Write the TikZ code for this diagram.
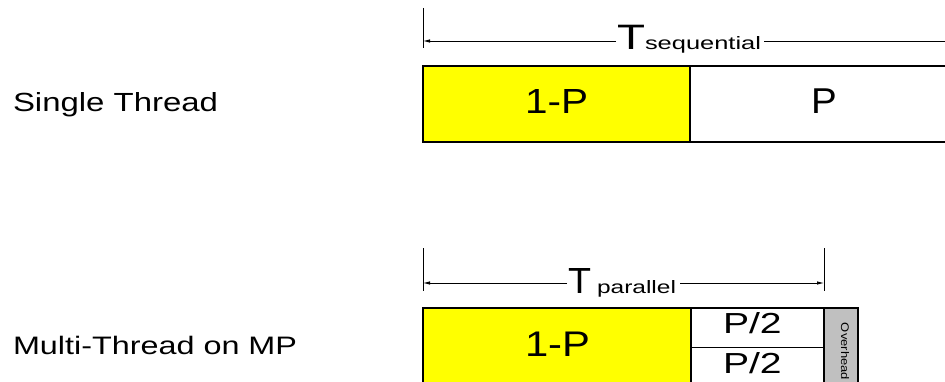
\documentclass[tikz,border=0pt]{standalone}
\usepackage{fontspec}
\setmainfont{Liberation Sans}
\usetikzlibrary{arrows.meta}
\newcommand\fitb[3]{\resizebox{#1pt}{#2pt}{#3}}
\definecolor{ovgray}{HTML}{C0C0C0}
\definecolor{baryellow}{HTML}{FFFF00}
\begin{document}
\begin{tikzpicture}[x=1pt,y=-1pt,
  lbl/.style={inner sep=0pt, outer sep=0pt, anchor=base west},
  box/.style={draw=black, line width=1.1pt, inner sep=0pt, outer sep=0pt, anchor=north west},
  tick/.style={draw=black, line width=0.8pt},
  dimline/.style={draw=black, line width=0.8pt, -{Latex[length=7pt,width=3.5pt]}},
  plain/.style={draw=black, line width=0.8pt},
]
\useasboundingbox (0,0) rectangle (945,382);
\clip (0,0) rectangle (945,382);

% ---------- Single thread ----------
\node[lbl] (st) at (13,111.7) {\fitb{205}{19}{Single Thread}};
\node[box, fill=baryellow, minimum width=267pt, minimum height=76pt] (s1) at (423,66) {};
\node[box, fill=white, minimum width=280pt, minimum height=76pt] (s2) at (690,66) {};
\node[lbl] (s1t) at (525,114) {\fitb{63}{24}{1-P}};
\node[lbl] (s2t) at (811,114) {\fitb{25.7}{24.7}{P}};

\coordinate (ta1) at (423,8);
\coordinate (ta2) at (423,48);
\draw[tick] (ta1) -- (ta2);
\node[lbl] (Ts) at (617,49.3) {\fitb{28}{24.3}{T}};
\node[lbl] (seq) at (645,50) {\fitb{116}{13}{sequential}};
\coordinate (sa1) at (616,41);
\coordinate (sa2) at (423,41);
\coordinate (sb1) at (764,41);
\coordinate (sb2) at (960,41);
\draw[dimline] (sa1) -- (sa2);
\draw[plain] (sb1) -- (sb2);

% ---------- Multi thread ----------
\node[lbl] (mt) at (13,354.3) {\fitb{284}{18.3}{Multi-Thread on MP}};
\node[box, fill=baryellow, minimum width=268pt, minimum height=90pt] (m1) at (423,308) {};
\node[box, fill=white, minimum width=133pt, minimum height=39.5pt] (m2) at (691,308) {};
\node[box, fill=white, minimum width=133pt, minimum height=50pt] (m3) at (691,347.5) {};
\node[box, fill=ovgray, minimum width=34pt, minimum height=90pt] (m4) at (824,308) {};
\node[lbl] (m1t) at (525,356.5) {\fitb{65}{24.5}{1-P}};
\node[lbl] (m2t) at (723,333.3) {\fitb{58.7}{21}{P/2}};
\node[lbl] (m3t) at (723,373.3) {\fitb{58.7}{21}{P/2}};
\node[inner sep=0pt, rotate=-90] (ov) at (845,351.5) {\fitb{57}{8}{Overhead}};

\coordinate (pa1) at (423,248);
\coordinate (pa2) at (423,291);
\coordinate (pb1) at (824,248);
\coordinate (pb2) at (824,291);
\draw[tick] (pa1) -- (pa2);
\draw[tick] (pb1) -- (pb2);
\node[lbl] (Tp) at (568,293.3) {\fitb{23}{25}{T}};
\node[lbl] (par) at (597,293.3) {\fitb{79}{13}{parallel}};
\coordinate (pl1) at (567,283);
\coordinate (pl2) at (423,283);
\coordinate (pr1) at (680,283);
\coordinate (pr2) at (824,283);
\draw[dimline] (pl1) -- (pl2);
\draw[dimline] (pr1) -- (pr2);
\end{tikzpicture}
\end{document}
